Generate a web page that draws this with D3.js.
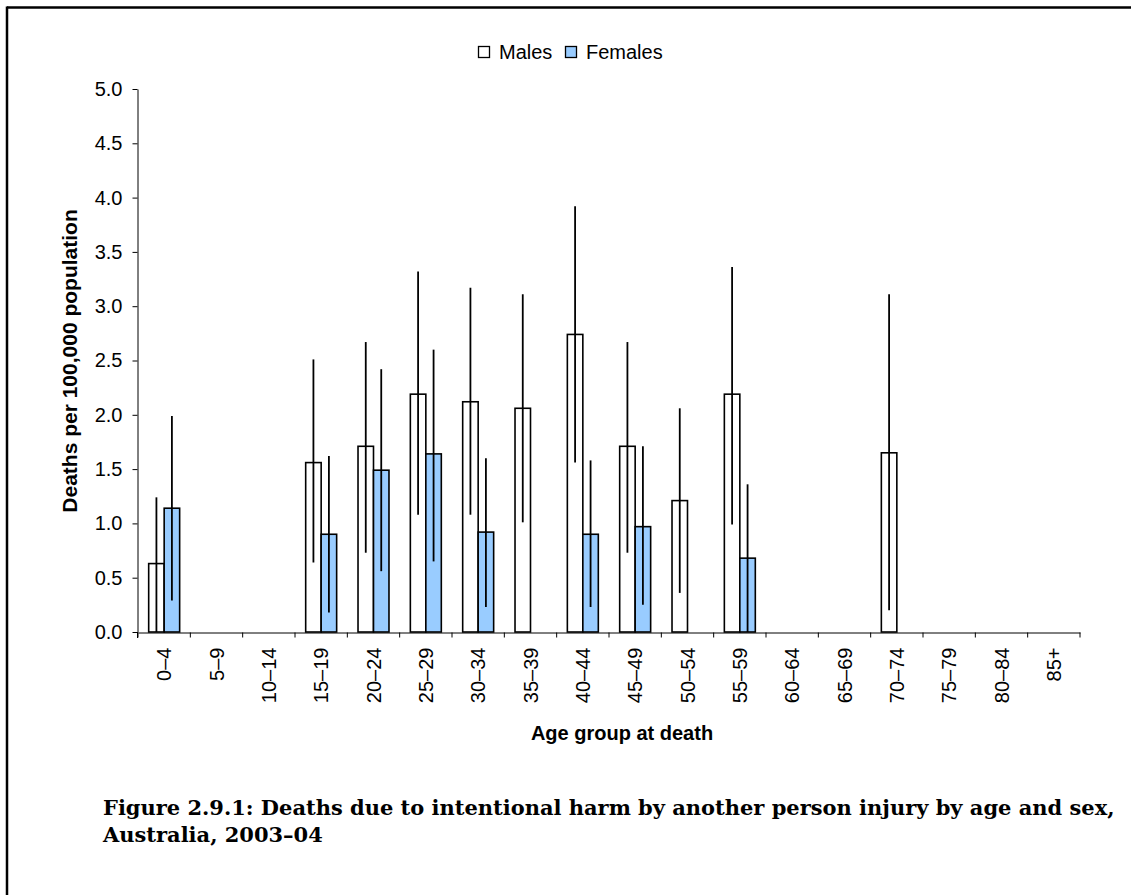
<!DOCTYPE html>
<html><head><meta charset="utf-8">
<script src="https://cdn.jsdelivr.net/npm/d3@7/dist/d3.min.js"></script>
<style>body{margin:0;background:#fff}svg{display:block}</style>
</head><body><svg id="c" width="1131" height="895"></svg>
<script>
const categories = ["0–4","5–9","10–14","15–19","20–24","25–29","30–34","35–39","40–44","45–49","50–54","55–59","60–64","65–69","70–74","75–79","80–84","85+"];
const males     = [0.63,null,null,1.56,1.71,2.19,2.12,2.06,2.74,1.71,1.21,2.19,null,null,1.65,null,null,null];
const malesLow  = [0.00,null,null,0.64,0.73,1.08,1.08,1.01,1.56,0.73,0.36,0.99,null,null,0.20,null,null,null];
const malesHigh = [1.24,null,null,2.51,2.67,3.32,3.17,3.11,3.92,2.67,2.06,3.36,null,null,3.11,null,null,null];
const females     = [1.14,null,null,0.90,1.49,1.64,0.92,null,0.90,0.97,null,0.68,null,null,null,null,null,null];
const femalesLow  = [0.29,null,null,0.18,0.56,0.65,0.23,null,0.23,0.25,null,0.00,null,null,null,null,null,null];
const femalesHigh = [1.99,null,null,1.62,2.42,2.60,1.60,null,1.58,1.71,null,1.36,null,null,null,null,null,null];
const series = ["Males","Females"];
const yTicks = [0,0.5,1,1.5,2,2.5,3,3.5,4,4.5,5];

const svg = d3.select("#c");
const font = "'Liberation Sans', Arial, sans-serif";

// frame (top + left lines)
svg.append("line").attr("x1",7).attr("x2",1131).attr("y1",7.5).attr("y2",7.5).attr("stroke","#000").attr("stroke-width",2.5);
svg.append("line").attr("x1",7).attr("x2",7).attr("y1",6.5).attr("y2",895).attr("stroke","#000").attr("stroke-width",2.5);

const x = d3.scaleBand().domain(categories).range([138,1080]);
const xs = d3.scaleBand().domain(series).range([0,x.bandwidth()]).paddingInner(0).paddingOuter(0.69);
const y = d3.scaleLinear().domain([0,5]).range([632,89]);

// y axis
const ya = svg.append("g").attr("transform","translate(137.5,0)")
  .call(d3.axisLeft(y).tickValues(yTicks).tickFormat(d3.format(".1f")).tickSize(5).tickSizeOuter(0));
ya.selectAll("text").attr("font-family",font).attr("font-size",20).attr("fill","#000").attr("dx","-7");
ya.selectAll("line,path").attr("stroke","#000");

// bars
const rows = categories.map((c,i)=>({c, m:males[i], ml:malesLow[i], mh:malesHigh[i], f:females[i], fl:femalesLow[i], fh:femalesHigh[i]}));
const items = [];
rows.forEach(r=>{
  if (r.m!=null) items.push({c:r.c, s:"Males", v:r.m, lo:r.ml, hi:r.mh});
  if (r.f!=null) items.push({c:r.c, s:"Females", v:r.f, lo:r.fl, hi:r.fh});
});
const g = svg.append("g");
g.selectAll("rect").data(items).join("rect")
  .attr("x",d=>x(d.c)+xs(d.s)).attr("width",xs.bandwidth())
  .attr("y",d=>y(d.v)).attr("height",d=>y(0)-y(d.v))
  .attr("fill",d=>d.s==="Males"?"#fff":"#99CCFF").attr("stroke","#000").attr("stroke-width",1.6);
g.selectAll("line.err").data(items).join("line").attr("class","err")
  .attr("x1",d=>x(d.c)+xs(d.s)+xs.bandwidth()/2).attr("x2",d=>x(d.c)+xs(d.s)+xs.bandwidth()/2)
  .attr("y1",d=>y(d.lo)).attr("y2",d=>y(d.hi)).attr("stroke","#000").attr("stroke-width",1.8);

// x axis
const xa = svg.append("g").attr("transform","translate(0,632.5)")
  .call(d3.axisBottom(x).tickSize(0).tickSizeOuter(0));
xa.select("path").attr("stroke","#000");
xa.selectAll("text").attr("font-family",font).attr("font-size",20).attr("fill","#000")
  .attr("transform","rotate(-90)").attr("text-anchor","end").attr("x",-15).attr("y",0).attr("dy","0.35em");
const bounds = categories.map(c=>x(c)).concat([x.range()[1]]);
xa.selectAll("line.bt").data(bounds).join("line").attr("class","bt")
  .attr("x1",d=>d).attr("x2",d=>d).attr("y1",0).attr("y2",5).attr("stroke","#000");
svg.append("line").attr("x1",137.5).attr("x2",137.5).attr("y1",632).attr("y2",638).attr("stroke","#000");

// axis titles
svg.append("text").attr("x",622).attr("y",740).attr("text-anchor","middle")
  .attr("font-family",font).attr("font-weight","bold").attr("font-size",20).text("Age group at death");
svg.append("text").attr("transform","translate(77,361) rotate(-90)").attr("text-anchor","middle")
  .attr("font-family",font).attr("font-weight","bold").attr("font-size",21).text("Deaths per 100,000 population");

// legend
const lg = svg.append("g").attr("font-family",font).attr("font-size",20);
lg.append("rect").attr("x",478.5).attr("y",46.5).attr("width",11).attr("height",11).attr("fill","#fff").attr("stroke","#000").attr("stroke-width",1.3);
lg.append("text").attr("x",499).attr("y",59).text("Males");
lg.append("rect").attr("x",565.5).attr("y",46.5).attr("width",11).attr("height",11).attr("fill","#99CCFF").attr("stroke","#000").attr("stroke-width",1.3);
lg.append("text").attr("x",586).attr("y",59).text("Females");

// caption
const cap = svg.append("g").attr("font-family","'DejaVu Serif', serif").attr("font-weight","bold").attr("fill","#000");
const c1 = cap.append("text").attr("x",103).attr("y",815).attr("font-size",18)
  .text("Figure 2.9.1: Deaths due to intentional harm by another person injury by age and sex,");
const c2 = cap.append("text").attr("x",103).attr("y",842).attr("font-size",18).text("Australia, 2003–04");
const len = c1.node().getComputedTextLength();
const fs = 18*1012/len;
c1.attr("font-size",fs); c2.attr("font-size",fs);
</script></body></html>
